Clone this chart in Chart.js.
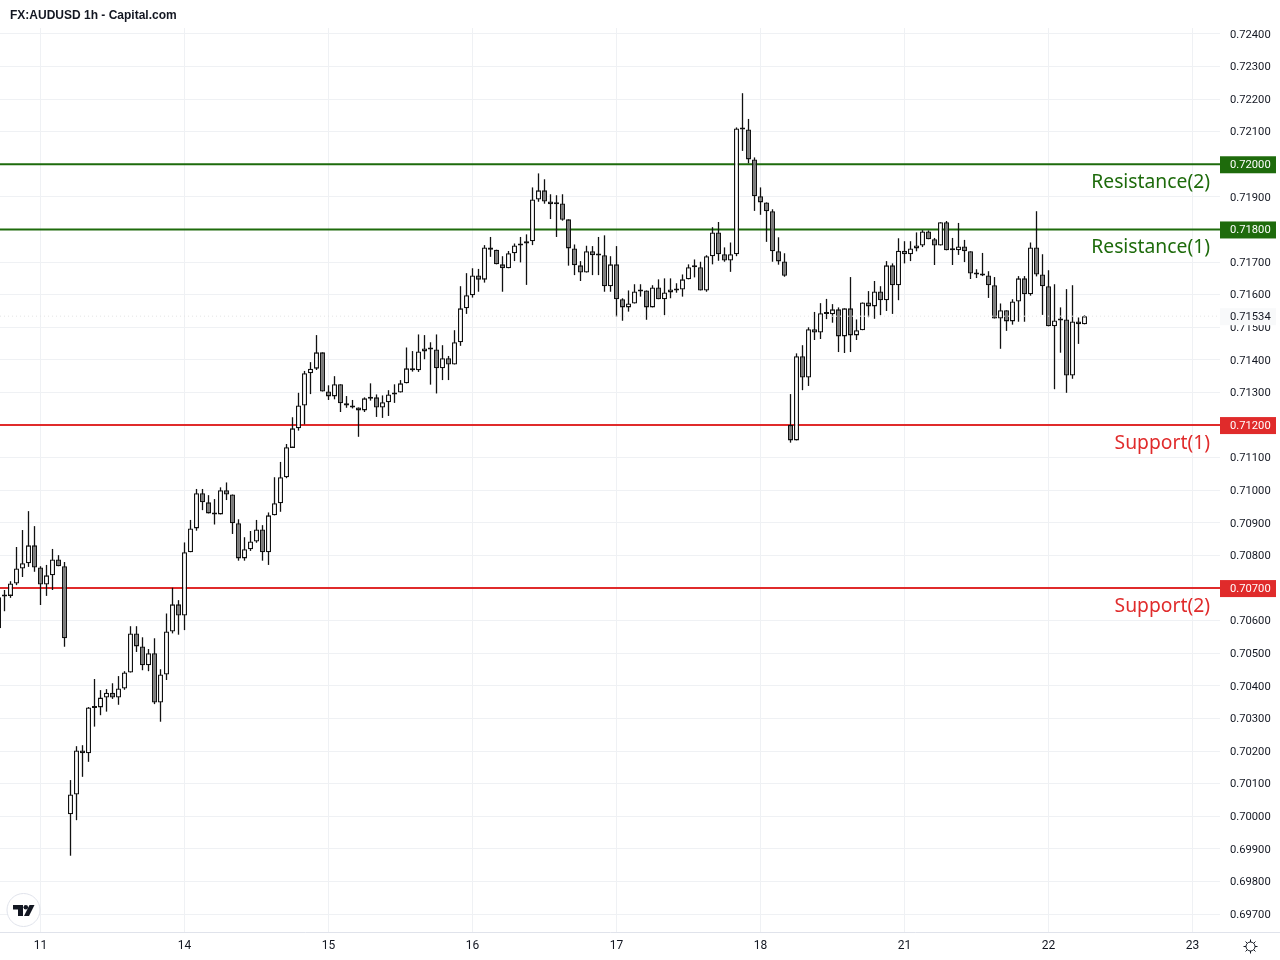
<!DOCTYPE html>
<html>
<head>
<meta charset="utf-8">
<title>FX:AUDUSD 1h</title>
<script src="https://cdn.jsdelivr.net/npm/chart.js@4/dist/chart.umd.min.js"></script>
<style>
  html, body { margin: 0; background: #fff; }
  canvas { display: block; }
</style>
</head>
<body>
<canvas id="chart" width="1280" height="960"></canvas>
<script>
// hourly candles, prices in 1/100000 (70577 = 0.70577)
const opens = [
  70577,70677,70676,70714,70760,70776,70831,70763,70711,70739,
  70788,70767,70006,70067,70202,70193,70335,70334,70364,70379,
  70364,70392,70441,70561,70521,70463,70500,70349,70435,70567,
  70650,70616,70810,70883,70991,70963,70929,70926,71000,70987,
  70899,70791,70819,70843,70880,70810,70923,70960,71040,71130,
  71190,71260,71359,71373,71423,71303,71288,71325,71267,71260,
  71254,71245,71284,71285,71254,71270,71294,71300,71328,71374,
  71368,71426,71435,71432,71374,71405,71386,71454,71558,71598,
  71659,71646,71745,71738,71693,71681,71727,71751,71757,71764,
  71892,71920,71886,71880,71880,71831,71742,71690,71668,71733,
  71721,71721,71626,71693,71586,71561,71573,71613,71613,71561,
  71622,71586,71607,71613,71616,71647,71684,71684,71613,71718,
  71791,71724,71705,71724,72110,72107,72015,71902,71883,71856,
  71733,71702,71200,71153,71411,71346,71494,71484,71543,71540,
  71555,71472,71558,71475,71491,71576,71564,71610,71583,71690,
  71629,71735,71724,71742,71751,71794,71770,71751,71822,71736,
  71736,71748,71733,71665,71662,71659,71629,71527,71552,71518,
  71579,71650,71601,71745,71662,71626,71503,71524,71524,71352,
  71518,71509
];
const highs = [
  70675,70694,70721,70826,70878,70936,70890,70767,70771,70820,
  70801,70780,70111,70215,70218,70335,70421,70387,70390,70408,
  70430,70445,70583,70583,70549,70513,70546,70451,70622,70701,
  70663,70840,70909,71004,71004,70985,70973,71009,71024,70987,
  70911,70856,70875,70909,70893,70932,71040,71087,71142,71224,
  71299,71366,71393,71476,71423,71322,71350,71325,71289,71277,
  71254,71285,71328,71294,71291,71307,71325,71338,71438,71427,
  71478,71476,71454,71478,71445,71412,71491,71626,71666,71681,
  71679,71752,71777,71738,71718,71734,71757,71777,71785,71929,
  71972,71954,71908,71905,71908,71831,71754,71703,71750,71749,
  71777,71782,71718,71749,71589,71613,71632,71632,71613,71629,
  71647,71650,71650,71635,71662,71693,71708,71701,71721,71807,
  71823,71745,71760,72113,72218,72139,72021,71929,71883,71862,
  71776,71727,71295,71420,71445,71500,71547,71574,71587,71571,
  71561,71558,71654,71524,71576,71611,71642,71626,71703,71696,
  71773,71764,71764,71791,71798,71797,71774,71822,71826,71774,
  71820,71768,71733,71678,71728,71672,71654,71573,71552,71586,
  71657,71657,71760,71856,71724,71675,71632,71561,71617,71629,
  71530,71537
];
const lows = [
  70577,70629,70670,70709,70734,70765,70750,70648,70676,70694,
  70767,70520,69879,69988,70121,70167,70275,70310,70321,70360,
  70342,70388,70441,70504,70448,70445,70344,70290,70418,70561,
  70557,70571,70810,70876,70939,70929,70895,70926,70970,70866,
  70784,70784,70814,70839,70784,70771,70923,70934,71037,71130,
  71183,71202,71295,71369,71303,71277,71279,71240,71253,71251,
  71164,71240,71275,71225,71222,71228,71268,71300,71328,71364,
  71363,71402,71324,71297,71338,71338,71386,71443,71541,71591,
  71609,71637,71716,71693,71609,71681,71703,71699,71630,71752,
  71885,71879,71832,71777,71827,71689,71660,71642,71668,71660,
  71660,71609,71609,71532,71520,71548,71573,71594,71523,71561,
  71586,71537,71589,71606,71594,71647,71653,71613,71609,71693,
  71704,71701,71670,71718,72041,72003,71857,71845,71762,71701,
  71692,71655,71146,71153,71307,71320,71461,71464,71525,71514,
  71424,71421,71424,71461,71491,71531,71526,71537,71550,71541,
  71583,71696,71703,71733,71746,71770,71691,71751,71736,71691,
  71722,71700,71648,71651,71657,71590,71527,71434,71489,71508,
  71517,71517,71597,71656,71538,71503,71310,71422,71299,71342,
  71449,71509
];
const closes = [
  70672,70674,70714,70760,70776,70831,70763,70711,70739,70788,
  70767,70546,70067,70202,70193,70334,70332,70364,70379,70364,
  70392,70441,70561,70521,70463,70500,70349,70435,70567,70650,
  70616,70810,70883,70991,70963,70929,70926,71000,70987,70899,
  70791,70819,70843,70880,70810,70923,70960,71040,71132,71190,
  71260,71359,71373,71423,71303,71288,71325,71267,71260,71254,
  71245,71282,71281,71254,71270,71294,71300,71328,71374,71368,
  71426,71435,71432,71374,71405,71386,71454,71558,71598,71659,
  71646,71745,71738,71693,71681,71727,71751,71757,71764,71892,
  71920,71886,71877,71877,71830,71742,71690,71668,71733,71721,
  71720,71626,71693,71586,71561,71573,71610,71610,71561,71622,
  71586,71607,71616,71614,71647,71684,71685,71613,71718,71791,
  71724,71705,71724,72110,72107,72015,71902,71883,71856,71733,
  71702,71658,71153,71411,71346,71494,71484,71543,71541,71555,
  71472,71558,71475,71491,71576,71564,71610,71583,71690,71629,
  71735,71724,71742,71751,71794,71770,71751,71822,71736,71737,
  71748,71733,71665,71662,71659,71629,71527,71552,71518,71579,
  71650,71601,71745,71662,71626,71503,71521,71521,71352,71518,
  71509,71534
];

const dayTickIndex = [7, 31, 55, 79, 103, 127, 151, 175, 199];
const dayLabels = ["11", "14", "15", "16", "17", "18", "21", "22", "23"];
const priceTicks = [
  0.697, 0.698, 0.699, 0.7, 0.701, 0.702, 0.703, 0.704, 0.705, 0.706,
  0.707, 0.708, 0.709, 0.71, 0.711, 0.712, 0.713, 0.714, 0.715, 0.716,
  0.717, 0.718, 0.719, 0.72, 0.721, 0.722, 0.723, 0.724
];

const levelValues = [0.72, 0.718, 0.712, 0.707];
const levelNames = ["Resistance(2)", "Resistance(1)", "Support(1)", "Support(2)"];
const lastPrice = 0.71534;
const titleText = "FX:AUDUSD 1h - Capital.com";

const GREEN = "#1e6b0c";
const RED = "#e02b2b";
const INK = "#131722";
const CANDLE_LINE = "#111111";
const GRID = "#eff1f4";
const levelColors = [GREEN, GREEN, RED, RED];
const AXIS_FONT = "11.2px Roboto";

const xMin = 0.25;
const xMax = 203.583;

const price = (v) => v / 100000;

const overlay = {
  id: "overlay",
  afterDraw(chart) {
    const { ctx, scales } = chart;
    const y = scales.y;
    ctx.save();

    // title
    ctx.fillStyle = INK;
    ctx.font = "bold 12px 'Liberation Sans'";
    ctx.textBaseline = "middle";
    ctx.textAlign = "left";
    ctx.fillText(titleText, 10, 16);

    // time axis border carries on under the price axis
    ctx.fillStyle = "#e0e3eb";
    ctx.fillRect(1220, 932, 60, 1);

    // level names and price tags
    levelValues.forEach((lvl, i) => {
      const py = y.getPixelForValue(lvl);
      ctx.fillStyle = levelColors[i];
      ctx.font = "19.3px 'Noto Sans'";
      ctx.textAlign = "right";
      ctx.fillText(levelNames[i], 1210, py + 18);
      ctx.fillRect(1220, py - 8, 56, 17);
      ctx.fillStyle = "#fff";
      ctx.font = AXIS_FONT;
      ctx.textAlign = "left";
      ctx.fillText(lvl.toFixed(5), 1230, py + 1);
    });

    // last price tag
    const ly = y.getPixelForValue(lastPrice);
    ctx.fillStyle = "#f8f9fa";
    ctx.fillRect(1220, ly - 8, 56, 17);
    ctx.fillStyle = INK;
    ctx.font = AXIS_FONT;
    ctx.fillText(lastPrice.toFixed(5), 1230, ly + 1);

    // logo badge
    ctx.beginPath();
    ctx.arc(23.5, 910, 16.5, 0, Math.PI * 2);
    ctx.fillStyle = "#fff";
    ctx.fill();
    ctx.strokeStyle = "#e0e3eb";
    ctx.lineWidth = 1;
    ctx.stroke();
    ctx.fillStyle = INK;
    ctx.fillRect(13, 905, 10, 4.5);
    ctx.fillRect(18, 905, 5, 11);
    ctx.beginPath();
    ctx.arc(25.8, 907.2, 2.3, 0, Math.PI * 2);
    ctx.fill();
    ctx.beginPath();
    ctx.moveTo(29.5, 905);
    ctx.lineTo(34.5, 905);
    ctx.lineTo(29, 916);
    ctx.lineTo(24, 916);
    ctx.closePath();
    ctx.fill();

    // settings icon
    ctx.strokeStyle = INK;
    ctx.lineWidth = 1;
    ctx.beginPath();
    ctx.arc(1250.5, 946.5, 4.5, 0, Math.PI * 2);
    ctx.stroke();
    for (let a = 0; a < 8; a++) {
      const t = (a * Math.PI) / 4;
      ctx.beginPath();
      ctx.moveTo(1250.5 + Math.cos(t) * 4.5, 946.5 + Math.sin(t) * 4.5);
      ctx.lineTo(1250.5 + Math.cos(t) * 7, 946.5 + Math.sin(t) * 7);
      ctx.stroke();
    }
    ctx.restore();
  },
};

const levelSets = levelValues.map((lvl, i) => ({
  type: "line",
  data: [{ x: xMin, y: lvl }, { x: xMax, y: lvl }],
  borderColor: levelColors[i],
  borderWidth: 2,
  pointRadius: 0,
  order: 3,
}));

new Chart(document.getElementById("chart"), {
  type: "bar",
  data: {
    datasets: [
      ...levelSets,
      {
        data: opens.map((_, i) => ({ x: i, y: [price(lows[i]), price(highs[i])] })),
        backgroundColor: CANDLE_LINE,
        borderWidth: 0,
        barThickness: 1.3,
        inflateAmount: 0,
        grouped: false,
        order: 2,
      },
      {
        data: opens.map((o, i) => ({ x: i, y: [price(o), price(closes[i])] })),
        backgroundColor: opens.map((o, i) => (closes[i] >= o ? "#ffffff" : "#787878")),
        borderColor: CANDLE_LINE,
        borderWidth: 1.3,
        borderSkipped: false,
        barThickness: 5,
        minBarLength: 2,
        inflateAmount: 0,
        grouped: false,
        order: 1,
      },
      {
        type: "line",
        data: [{ x: xMin, y: lastPrice }, { x: xMax, y: lastPrice }],
        borderColor: "#e4e4e4",
        borderWidth: 1,
        borderDash: [1, 3],
        pointRadius: 0,
        order: 0,
      },
    ],
  },
  plugins: [overlay],
  options: {
    responsive: false,
    animation: false,
    layout: { padding: { top: 28, left: 0, right: 0, bottom: 0 } },
    plugins: { legend: { display: false }, tooltip: { enabled: false } },
    scales: {
      x: {
        type: "linear",
        min: xMin,
        max: xMax,
        offset: false,
        afterFit(scale) {
          scale.height = 28;
        },
        afterBuildTicks(scale) {
          scale.ticks = dayTickIndex.map((value) => ({ value }));
        },
        grid: { offset: false, color: GRID, drawTicks: false },
        border: { color: "#e0e3eb" },
        ticks: {
          autoSkip: false,
          maxRotation: 0,
          padding: 7,
          color: INK,
          font: { family: "Roboto", size: 12 },
          callback: (value) => dayLabels[dayTickIndex.indexOf(value)],
        },
      },
      y: {
        position: "right",
        min: 0.69645,
        max: 0.72418,
        afterFit(scale) {
          scale.width = 60;
        },
        afterBuildTicks(scale) {
          scale.ticks = priceTicks.map((value) => ({ value }));
        },
        grid: { color: GRID, drawTicks: false },
        border: { display: false },
        ticks: {
          autoSkip: false,
          padding: 10,
          labelOffset: 1,
          color: INK,
          font: { family: "Roboto", size: 11.2 },
          callback: (value) => value.toFixed(5),
        },
      },
    },
  },
});
</script>
</body>
</html>
